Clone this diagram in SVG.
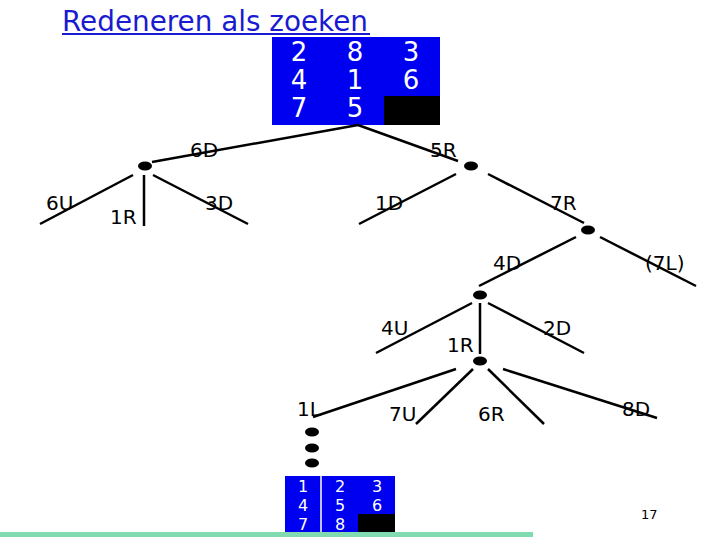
<svg xmlns="http://www.w3.org/2000/svg" width="720" height="540" viewBox="0 0 720 540">
<style>
.t{font-family:"DejaVu Sans",Verdana,sans-serif;font-size:20px;fill:#000}
.n{font-family:"DejaVu Sans",Verdana,sans-serif;font-size:26px;fill:#fff;text-anchor:middle}
.s{font-family:"DejaVu Sans",Verdana,sans-serif;font-size:16px;fill:#fff;text-anchor:middle}
.e line{stroke:#000;stroke-width:2.5}
.d{fill:#000}
</style>
<rect width="720" height="540" fill="#fff"/>
<g id="title">
<text x="62" y="31" font-family="'DejaVu Sans',Verdana,sans-serif" font-size="28" fill="#1a1ad0" textLength="306" lengthAdjust="spacingAndGlyphs">Redeneren als zoeken</text>
<line x1="62" y1="34" x2="370" y2="34" stroke="#1a1ad0" stroke-width="2"/>
</g>
<g id="start-state">
<rect x="272" y="37" width="168" height="88" fill="#0000f0"/>
<rect x="384" y="96" width="56" height="29" fill="#000"/>
<text class="n" x="299" y="61">2</text><text class="n" x="355" y="61">8</text><text class="n" x="411" y="61">3</text>
<text class="n" x="299" y="89">4</text><text class="n" x="355" y="89">1</text><text class="n" x="411" y="89">6</text>
<text class="n" x="299" y="117">7</text><text class="n" x="355" y="117">5</text>
</g>
<g id="connectors" class="e">
<line x1="358" y1="125" x2="152" y2="162"/>
<line x1="358" y1="125" x2="458" y2="161"/>
<line x1="133" y1="175" x2="40" y2="224"/>
<line x1="144" y1="175" x2="144" y2="226"/>
<line x1="153" y1="175" x2="248" y2="224"/>
<line x1="456" y1="174" x2="359" y2="224"/>
<line x1="488" y1="174" x2="584" y2="223"/>
<line x1="576" y1="237" x2="479" y2="286"/>
<line x1="600" y1="237" x2="696" y2="286"/>
<line x1="472" y1="303" x2="376" y2="353"/>
<line x1="480" y1="303" x2="480" y2="354"/>
<line x1="488" y1="303" x2="584" y2="353"/>
<line x1="456" y1="369" x2="313" y2="417"/>
<line x1="473" y1="369" x2="416" y2="424"/>
<line x1="488" y1="369" x2="544" y2="424"/>
<line x1="503" y1="369" x2="657" y2="418"/>
</g>
<g id="node-left"><ellipse class="d" cx="145" cy="166" rx="7" ry="4.5"/></g>
<g id="node-right"><ellipse class="d" cx="471" cy="166" rx="7" ry="4.5"/></g>
<g id="node-7R"><ellipse class="d" cx="588" cy="230" rx="7" ry="4.5"/></g>
<g id="node-4D"><ellipse class="d" cx="480" cy="295" rx="7" ry="4.5"/></g>
<g id="node-1R"><ellipse class="d" cx="480" cy="361" rx="7" ry="4.5"/></g>
<g id="node-dots">
<ellipse class="d" cx="312" cy="432" rx="7" ry="4.5"/>
<ellipse class="d" cx="312" cy="448" rx="7" ry="4.5"/>
<ellipse class="d" cx="312" cy="463" rx="7" ry="4.5"/>
</g>
<g id="labels">
<text class="t" x="190" y="157">6D</text>
<text class="t" x="430" y="157">5R</text>
<text class="t" x="46" y="210">6U</text>
<text class="t" x="110" y="224">1R</text>
<text class="t" x="205" y="210">3D</text>
<text class="t" x="375" y="210">1D</text>
<text class="t" x="550" y="210">7R</text>
<text class="t" x="493" y="270">4D</text>
<text class="t" x="645" y="270">(7L)</text>
<text class="t" x="381" y="335">4U</text>
<text class="t" x="447" y="352">1R</text>
<text class="t" x="543" y="335">2D</text>
<text class="t" x="297" y="416">1L</text>
<text class="t" x="389" y="421">7U</text>
<text class="t" x="478" y="421">6R</text>
<text class="t" x="622" y="416">8D</text>
</g>
<g id="goal-state">
<rect x="285" y="476" width="110" height="57" fill="#0000f0"/>
<rect x="358" y="514" width="37" height="19" fill="#000"/>
<line x1="321" y1="476" x2="321" y2="533" stroke="#fff" stroke-width="1.5"/>
<text class="s" x="303" y="492">1</text><text class="s" x="340" y="492">2</text><text class="s" x="377" y="492">3</text>
<text class="s" x="303" y="511">4</text><text class="s" x="340" y="511">5</text><text class="s" x="377" y="511">6</text>
<text class="s" x="303" y="530">7</text><text class="s" x="340" y="530">8</text>
</g>
<rect x="0" y="532" width="533" height="5" fill="#80dcb0"/>
<text x="641" y="519" font-family="'DejaVu Sans',Verdana,sans-serif" font-size="13" fill="#000">17</text>
</svg>
